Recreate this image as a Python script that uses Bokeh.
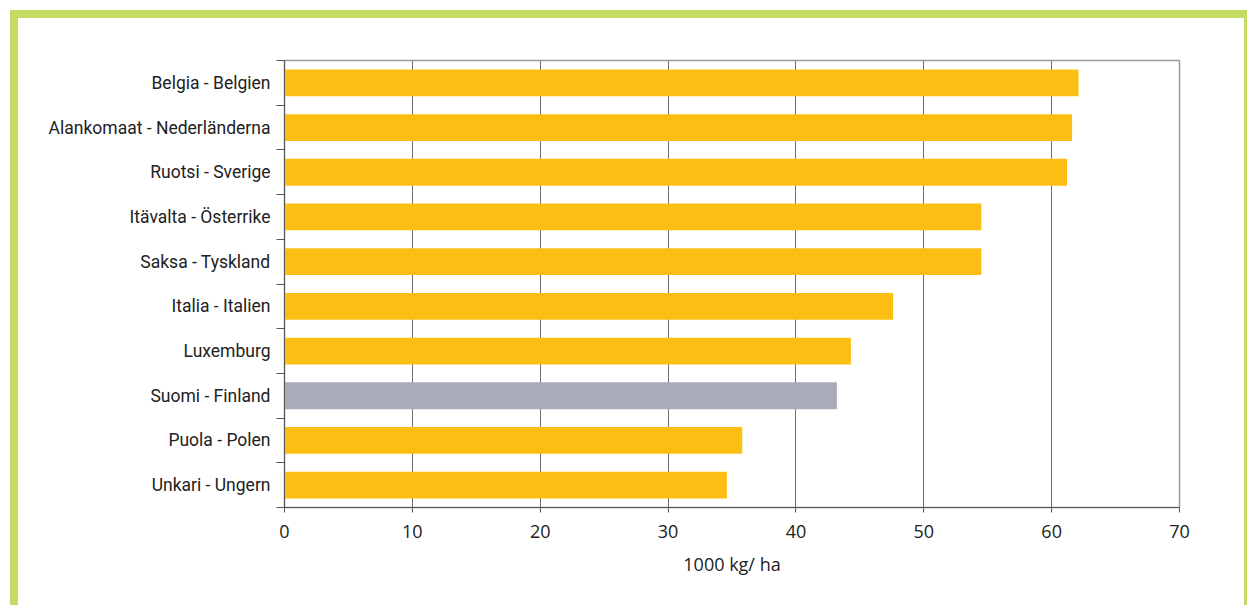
from bokeh.plotting import figure
from bokeh.layouts import column
from bokeh.models import FixedTicker
from bokeh.embed import file_html
from bokeh.resources import INLINE

# Data (top to bottom as shown)
countries = ["Belgia - Belgien", "Alankomaat - Nederländerna", "Ruotsi - Sverige",
             "Itävalta - Österrike", "Saksa - Tyskland", "Italia - Italien",
             "Luxemburg", "Suomi - Finland", "Puola - Polen", "Unkari - Ungern"]
values = [62.1, 61.6, 61.2, 54.5, 54.5, 47.6, 44.3, 43.2, 35.8, 34.6]
highlight = "Suomi - Finland"
x_ticks = [0, 10, 20, 30, 40, 50, 60, 70]
x_label = "1000 kg/ ha"

ORANGE = "#FDBE14"
GREY = "#A8ACB9"
GREEN = "#C2DB64"

n = len(countries)
ypos = [n - 1 - i + 0.5 for i in range(n)]
colors = [GREY if c == highlight else ORANGE for c in countries]

W, H = 1226, 587
p = figure(width=W, height=H, x_range=(0, 70), y_range=(0, n),
           output_backend="svg", toolbar_location=None,
           min_border_left=266, min_border_right=65,
           min_border_top=42, min_border_bottom=98)
p.background_fill_color = "white"
p.border_fill_color = "white"
p.outline_line_color = "#9a9a9a"
p.outline_line_width = 1.5

p.hbar(y=ypos, right=values, left=0, height=0.6, color=colors, line_color=None)

# x axis
p.xaxis.ticker = FixedTicker(ticks=x_ticks, minor_ticks=[])
p.xaxis.axis_label = x_label
p.xaxis.axis_label_text_font = "Open Sans"
p.xaxis.axis_label_text_font_size = "18px"
p.xaxis.axis_label_text_font_style = "normal"
p.xaxis.axis_label_text_color = "#222222"
p.xaxis.axis_label_standoff = 11
p.xaxis.major_label_text_font = "Open Sans"
p.xaxis.major_label_text_font_size = "18px"
p.xaxis.major_label_text_color = "#222222"
p.xaxis.major_label_standoff = 12
p.xaxis.major_tick_out = 5
p.xaxis.major_tick_in = 0
p.xaxis.minor_tick_out = 0
p.xaxis.axis_line_color = "#555555"
p.xaxis.major_tick_line_color = "#555555"

# y axis: labels at centres, ticks at category boundaries
p.yaxis.ticker = FixedTicker(ticks=ypos, minor_ticks=list(range(n + 1)))
p.yaxis.major_label_overrides = {y: c for y, c in zip(ypos, countries)}
p.yaxis.major_tick_out = 0
p.yaxis.major_tick_in = 0
p.yaxis.minor_tick_out = 8
p.yaxis.minor_tick_in = 0
p.yaxis.minor_tick_line_color = "#555555"
p.yaxis.axis_line_color = "#555555"
p.yaxis.major_label_text_font = "Roboto"
p.yaxis.major_label_text_font_size = "17.5px"
p.yaxis.major_label_text_color = "#222222"
p.yaxis.major_label_standoff = 6

p.xgrid.ticker = FixedTicker(ticks=x_ticks[1:-1])
p.xgrid.grid_line_color = "#707070"
p.xgrid.grid_line_width = 1
p.ygrid.grid_line_color = None

layout = column(p, styles={
    "margin-left": "10px", "margin-top": "10px",
    "border-left": f"8px solid {GREEN}",
    "border-top": f"8px solid {GREEN}",
    "border-right": f"3px solid {GREEN}",
})

open("out.html", "w").write(file_html(layout, INLINE))
